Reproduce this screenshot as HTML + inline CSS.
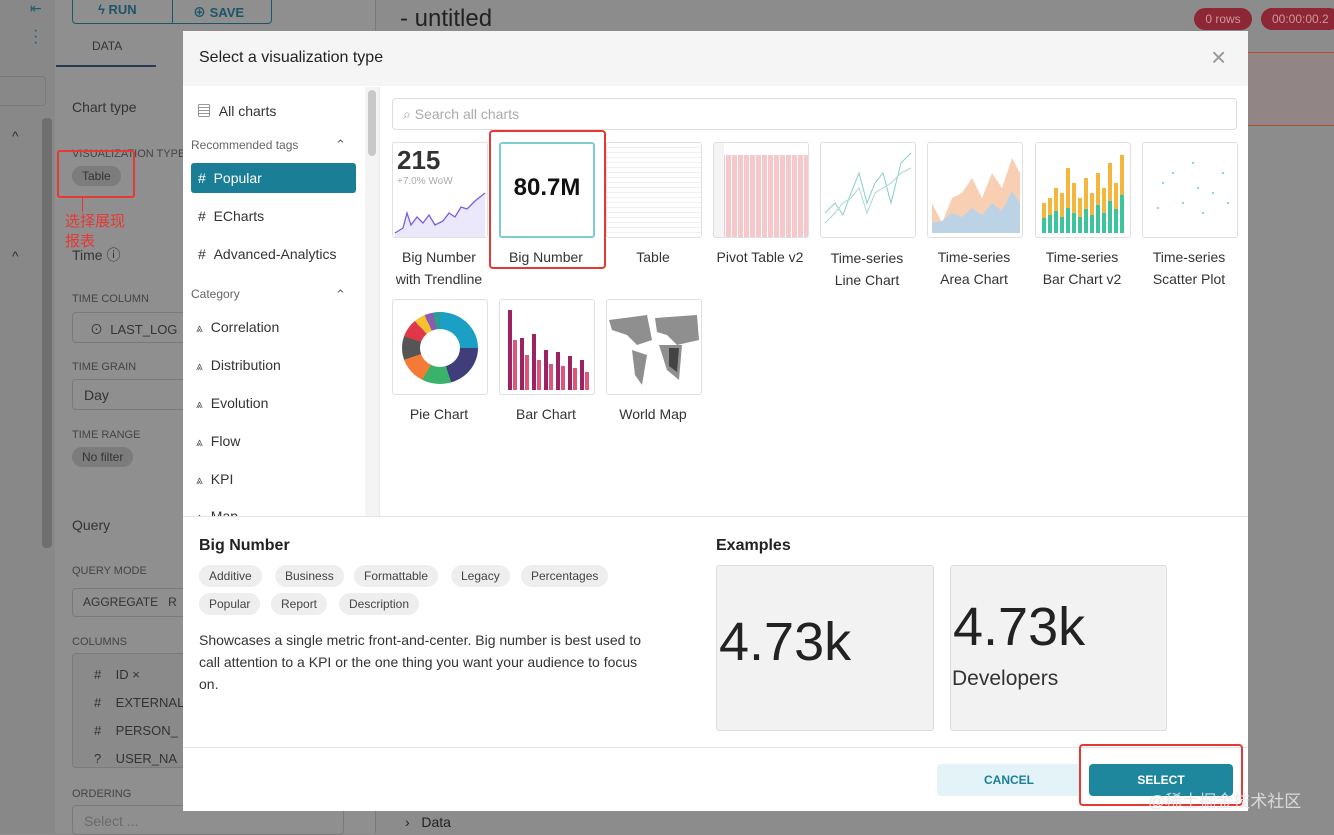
<!DOCTYPE html>
<html><head><meta charset="utf-8"><style>
*{box-sizing:border-box;margin:0;padding:0}
body{width:1334px;height:833px;overflow:hidden;background:#8c8c8c;font-family:"Liberation Sans","Noto Sans CJK SC",sans-serif;position:relative;color:#333}
.a{position:absolute}
.th{position:absolute;width:96px;height:96px;border:1px solid #e0e0e0;border-radius:3px;background:#fff;overflow:hidden}
.lb{position:absolute;width:110px;text-align:center;font-size:14px;color:#333;line-height:22px}
.ci{position:absolute;left:196px;font-size:14px;color:#333}
.ci b{font-weight:normal;color:#555;margin-right:8px;font-size:12px}
.tag{position:absolute;height:22px;line-height:22px;background:#eee;border-radius:11px;padding:0 10px;font-size:12px;color:#444}
.chip{position:absolute;background:#7c7c7c;border-radius:11px;font-size:12px;color:#333;padding:3px 10px}
</style></head><body>
<div class="a" style="left:0;top:0;width:55px;height:833px;background:#888"></div>
<div class="a" style="left:55px;top:0;width:320px;height:833px;background:#8f8f8f"></div>
<div class="a" style="left:42px;top:118px;width:10px;height:430px;background:#6f6f6f;border-radius:4px"></div>
<div class="a" style="left:375px;top:0;width:1px;height:833px;background:#7a7a7a"></div>
<div class="a" style="left:0;top:76px;width:46px;height:30px;border:1px solid #7a7a7a;border-left:none;border-radius:0 4px 4px 0"></div>
<div class="a" style="left:30px;top:0;color:#1c5f75;font-size:14px">⇤</div>
<div class="a" style="left:33px;top:28px;color:#1c5f75;font-size:16px;line-height:6px">·<br>·<br>·</div>
<div class="a" style="left:72px;top:-4px;width:200px;height:28px;border:1px solid #1d5669;border-radius:4px"></div>
<div class="a" style="left:172px;top:-4px;width:1px;height:28px;background:#1d5669"></div>
<div class="a" style="left:98px;top:2px;font-size:13px;color:#1d5669;font-weight:bold">ϟ RUN</div>
<div class="a" style="left:193px;top:2px;font-size:13px;color:#1d5669;font-weight:bold">⊕ SAVE</div>
<div class="a" style="left:92px;top:39px;font-size:12px;color:#333">DATA</div>
<div class="a" style="left:56px;top:65px;width:100px;height:2px;background:#2a3a50"></div>
<div class="a" style="left:72px;top:99px;font-size:14px;color:#333">Chart type</div>
<div class="a" style="left:12px;top:128px;font-size:14px;color:#333">^</div>
<div class="a" style="left:12px;top:248px;font-size:14px;color:#333">^</div>
<div class="a" style="left:72px;top:148px;font-size:11px;color:#444">VISUALIZATION TYPE</div>
<div class="chip" style="left:72px;top:166px">Table</div>
<div class="a" style="left:57px;top:150px;width:78px;height:48px;border:2px solid #e53935;border-radius:3px"></div>
<div class="a" style="left:82px;top:198px;width:1px;height:14px;background:#e53935"></div>
<div class="a" style="left:65px;top:212px;font-size:15px;color:#e53935;line-height:20px">选择展现<br>报表</div>
<div class="a" style="left:72px;top:245px;font-size:14px;color:#333">Time ⓘ</div>
<div class="a" style="left:72px;top:293px;font-size:11px;color:#444">TIME COLUMN</div>
<div class="a" style="left:72px;top:312px;width:120px;height:31px;border:1px solid #7a7a7a;border-radius:4px"></div>
<div class="a" style="left:90px;top:319px;font-size:13px;color:#333">⊙ &nbsp;LAST_LOG</div>
<div class="a" style="left:72px;top:361px;font-size:11px;color:#444">TIME GRAIN</div>
<div class="a" style="left:72px;top:379px;width:120px;height:31px;border:1px solid #7a7a7a;border-radius:4px"></div>
<div class="a" style="left:84px;top:387px;font-size:14px;color:#333">Day</div>
<div class="a" style="left:72px;top:429px;font-size:11px;color:#444">TIME RANGE</div>
<div class="chip" style="left:72px;top:447px">No filter</div>
<div class="a" style="left:72px;top:517px;font-size:14px;color:#333">Query</div>
<div class="a" style="left:72px;top:565px;font-size:11px;color:#444">QUERY MODE</div>
<div class="a" style="left:72px;top:588px;width:120px;height:29px;border:1px solid #7a7a7a;border-radius:4px"></div>
<div class="a" style="left:83px;top:595px;font-size:12px;color:#333">AGGREGATE &nbsp;&nbsp;R</div>
<div class="a" style="left:72px;top:636px;font-size:11px;color:#444">COLUMNS</div>
<div class="a" style="left:72px;top:653px;width:120px;height:115px;border:1px solid #7a7a7a;border-radius:4px;background:#8a8a8a"></div>
<div class="a" style="left:94px;top:661px;font-size:13px;color:#333;line-height:28px">#&nbsp;&nbsp;&nbsp; ID ×<br>#&nbsp;&nbsp;&nbsp; EXTERNAL<br>#&nbsp;&nbsp;&nbsp; PERSON_<br>?&nbsp;&nbsp;&nbsp; USER_NA</div>
<div class="a" style="left:72px;top:788px;font-size:11px;color:#444">ORDERING</div>
<div class="a" style="left:72px;top:805px;width:272px;height:30px;border:1px solid #7a7a7a;border-radius:4px"></div>
<div class="a" style="left:84px;top:813px;font-size:14px;color:#6a6a6a">Select ...</div>
<div class="a" style="left:400px;top:5px;font-size:24px;color:#222">- untitled</div>
<div class="a" style="left:1194px;top:8px;width:58px;height:22px;background:#8d2635;border-radius:11px;color:#c99;font-size:12px;text-align:center;line-height:22px">0 rows</div>
<div class="a" style="left:1261px;top:8px;width:80px;height:22px;background:#8d2635;border-radius:11px;color:#c99;font-size:12px;line-height:22px;padding-left:11px">00:00:00.2</div>
<div class="a" style="left:1248px;top:52px;width:86px;height:74px;background:#918685;border-top:1px solid #b5502a;border-bottom:1px solid #b5502a"></div>
<div class="a" style="left:405px;top:814px;font-size:14px;color:#222">›&nbsp;&nbsp; Data</div>

<div class="a" style="left:183px;top:31px;width:1065px;height:780px;background:#fff"></div>
<div class="a" style="left:183px;top:31px;width:1065px;height:55px;background:#f5f5f5"></div>
<div class="a" style="left:199px;top:49px;font-size:16px;color:#222">Select a visualization type</div>
<div class="a" style="left:1211px;top:42px;font-size:26px;color:#999">×</div>
<div class="a" style="left:365px;top:87px;width:15px;height:430px;background:#f4f4f4"></div>
<div class="a" style="left:368px;top:90px;width:8px;height:66px;background:#c8c8c8;border-radius:4px"></div>
<div class="a" style="left:379px;top:87px;width:1px;height:430px;background:#e8e8e8"></div>
<div class="a" style="left:197px;top:101px;font-size:14px;color:#333">▤ &nbsp;All charts</div>
<div class="a" style="left:191px;top:138px;font-size:12px;color:#666">Recommended tags</div>
<div class="a" style="left:335px;top:137px;font-size:13px;color:#666">⌃</div>
<div class="a" style="left:191px;top:163px;width:165px;height:30px;background:#1a7f96;border-radius:3px"></div>
<div class="a" style="left:198px;top:170px;font-size:14px;color:#fff">#&nbsp;&nbsp;Popular</div>
<div class="a" style="left:198px;top:208px;font-size:14px;color:#333">#&nbsp;&nbsp;ECharts</div>
<div class="a" style="left:198px;top:246px;font-size:14px;color:#333">#&nbsp;&nbsp;Advanced-Analytics</div>
<div class="a" style="left:191px;top:287px;font-size:12px;color:#666">Category</div>
<div class="a" style="left:335px;top:287px;font-size:13px;color:#666">⌃</div>
<div class="ci" style="top:319px"><b>⩓</b>Correlation</div>
<div class="ci" style="top:357px"><b>⩓</b>Distribution</div>
<div class="ci" style="top:395px"><b>⩓</b>Evolution</div>
<div class="ci" style="top:433px"><b>⩓</b>Flow</div>
<div class="ci" style="top:471px"><b>⩓</b>KPI</div>
<div class="ci" style="top:508px;height:8px;overflow:hidden"><b>⩓</b>Map</div>
<div class="a" style="left:392px;top:98px;width:845px;height:32px;border:1px solid #ddd;border-radius:4px"></div>
<div class="a" style="left:403px;top:106px;font-size:14px;color:#aaa">⌕ Search all charts</div>

<div class="th" style="left:392px;top:142px"><div style="position:absolute;left:4px;top:2px;font-size:26px;font-weight:bold;color:#333">215</div><div style="position:absolute;left:4px;top:33px;font-size:10px;color:#aaa">+7.0% WoW</div>
<svg width="96" height="96" style="position:absolute;left:0;top:0"><path d="M2 90 L10 85 L14 70 L18 82 L24 74 L30 80 L36 72 L42 82 L50 78 L56 70 L62 74 L68 64 L74 66 L82 58 L92 50 L92 96 L2 96Z" fill="#ece8fb"/><path d="M2 90 L10 85 L14 70 L18 82 L24 74 L30 80 L36 72 L42 82 L50 78 L56 70 L62 74 L68 64 L74 66 L82 58 L92 50" fill="none" stroke="#7a5ce0" stroke-width="1.3"/></svg></div>
<div class="th" style="left:499px;top:142px;border:2px solid #7ecbd0"><div style="position:absolute;width:100%;top:30px;text-align:center;font-size:24px;font-weight:bold;color:#111">80.7M</div></div>
<div class="th" style="left:606px;top:142px;background:repeating-linear-gradient(#fff 0 4px,#f0f0f0 4px 5px)"></div>
<div class="th" style="left:713px;top:142px;background:repeating-linear-gradient(90deg,#f6c7cb 0 5px,#fff 5px 6px);"><div style="position:absolute;left:0;top:0;width:96px;height:12px;background:#fff"></div><div style="position:absolute;left:0;top:0;width:10px;height:96px;background:#f4f4f4"></div></div>
<div class="th" style="left:820px;top:142px"><svg width="96" height="96"><path d="M4 70 L14 60 L22 72 L30 50 L38 30 L46 60 L54 40 L62 30 L70 60 L80 20 L90 10" fill="none" stroke="#8cc" stroke-width="1"/><path d="M4 80 L14 70 L22 60 L30 55 L38 45 L46 70 L54 50 L62 45 L70 40 L80 30 L90 25" fill="none" stroke="#a8d8cf" stroke-width="1"/></svg></div>
<div class="th" style="left:927px;top:142px"><svg width="96" height="96"><path d="M4 90 L4 60 L14 80 L24 55 L34 50 L44 35 L54 55 L64 30 L74 45 L84 15 L92 30 L92 90Z" fill="#f9cfb3"/><path d="M4 90 L4 80 L14 78 L24 70 L34 74 L44 65 L54 72 L64 60 L74 68 L84 48 L92 60 L92 90Z" fill="#bcd3e6"/></svg></div>
<div class="th" style="left:1035px;top:142px"><svg width="96" height="96"><g fill="#f5b73b"><rect x="6" y="60" width="4" height="30"/><rect x="12" y="55" width="4" height="35"/><rect x="18" y="45" width="4" height="45"/><rect x="24" y="50" width="4" height="40"/><rect x="30" y="25" width="4" height="65"/><rect x="36" y="40" width="4" height="50"/><rect x="42" y="55" width="4" height="35"/><rect x="48" y="35" width="4" height="55"/><rect x="54" y="50" width="4" height="40"/><rect x="60" y="30" width="4" height="60"/><rect x="66" y="45" width="4" height="45"/><rect x="72" y="20" width="4" height="70"/><rect x="78" y="40" width="4" height="50"/><rect x="84" y="12" width="4" height="78"/></g><g fill="#3cc49b"><rect x="6" y="75" width="4" height="15"/><rect x="12" y="72" width="4" height="18"/><rect x="18" y="68" width="4" height="22"/><rect x="24" y="74" width="4" height="16"/><rect x="30" y="65" width="4" height="25"/><rect x="36" y="70" width="4" height="20"/><rect x="42" y="74" width="4" height="16"/><rect x="48" y="66" width="4" height="24"/><rect x="54" y="72" width="4" height="18"/><rect x="60" y="62" width="4" height="28"/><rect x="66" y="70" width="4" height="20"/><rect x="72" y="58" width="4" height="32"/><rect x="78" y="66" width="4" height="24"/><rect x="84" y="52" width="4" height="38"/></g></svg></div>
<div class="th" style="left:1142px;top:142px"><svg width="96" height="96" fill="#6cc"><circle cx="20" cy="40" r="1"/><circle cx="30" cy="30" r="1"/><circle cx="50" cy="20" r="1"/><circle cx="70" cy="50" r="1"/><circle cx="80" cy="30" r="1"/><circle cx="40" cy="60" r="1"/><circle cx="60" cy="70" r="1"/><circle cx="85" cy="60" r="1"/><circle cx="15" cy="65" r="1"/><circle cx="55" cy="45" r="1"/></svg></div>
<div class="lb" style="left:384px;top:246px">Big Number<br>with Trendline</div>
<div class="lb" style="left:491px;top:246px">Big Number</div>
<div class="a" style="left:489px;top:130px;width:117px;height:139px;border:2px solid #e53935;border-radius:4px"></div>
<div class="lb" style="left:598px;top:246px">Table</div>
<div class="lb" style="left:705px;top:246px">Pivot Table v2</div>
<div class="lb" style="left:812px;top:247px">Time-series<br>Line Chart</div>
<div class="lb" style="left:919px;top:246px">Time-series<br>Area Chart</div>
<div class="lb" style="left:1027px;top:246px">Time-series<br>Bar Chart v2</div>
<div class="lb" style="left:1134px;top:246px">Time-series<br>Scatter Plot</div>

<div class="th" style="left:392px;top:299px"><div style="position:absolute;left:9px;top:12px;width:76px;height:72px;border-radius:50%;background:conic-gradient(#1c9fc4 0 25%,#3f3d7a 25% 45%,#3bb26b 45% 58%,#f47b35 58% 70%,#555 70% 80%,#e0384a 80% 88%,#f5c130 88% 93%,#8b5bb1 93% 97%,#2a9d8f 97%)"></div><div style="position:absolute;left:27px;top:29px;width:40px;height:38px;border-radius:50%;background:#fff"></div></div>
<div class="th" style="left:499px;top:299px"><svg width="96" height="96"><g fill="#9c2262"><rect x="8" y="10" width="4" height="80"/><rect x="20" y="38" width="4" height="52"/><rect x="32" y="34" width="4" height="56"/><rect x="44" y="50" width="4" height="40"/><rect x="56" y="52" width="4" height="38"/><rect x="68" y="56" width="4" height="34"/><rect x="80" y="60" width="4" height="30"/></g><g fill="#e0567a"><rect x="13" y="40" width="4" height="50"/><rect x="25" y="55" width="4" height="35"/><rect x="37" y="60" width="4" height="30"/><rect x="49" y="64" width="4" height="26"/><rect x="61" y="66" width="4" height="24"/><rect x="73" y="68" width="4" height="22"/><rect x="85" y="72" width="4" height="18"/></g></svg></div>
<div class="th" style="left:606px;top:299px"><svg width="96" height="96"><path d="M2 20 L40 15 L45 40 L30 45 L20 35 L5 30Z M25 50 L40 55 L35 85 L28 75Z M48 18 L90 15 L92 40 L70 45 L60 35 L50 32Z M52 45 L75 45 L72 80 L60 70Z" fill="#8f8f8f"/><path d="M62 48 L72 48 L70 72 L62 66Z" fill="#444"/></svg></div>
<div class="lb" style="left:384px;top:403px">Pie Chart</div>
<div class="lb" style="left:491px;top:403px">Bar Chart</div>
<div class="lb" style="left:598px;top:403px">World Map</div>

<div class="a" style="left:183px;top:516px;width:1065px;height:1px;background:#e4e4e4"></div>
<div class="a" style="left:199px;top:537px;font-size:16px;font-weight:bold;color:#222">Big Number</div>
<div class="tag" style="left:199px;top:565px">Additive</div>
<div class="tag" style="left:275px;top:565px">Business</div>
<div class="tag" style="left:354px;top:565px">Formattable</div>
<div class="tag" style="left:451px;top:565px">Legacy</div>
<div class="tag" style="left:521px;top:565px">Percentages</div>
<div class="tag" style="left:199px;top:593px">Popular</div>
<div class="tag" style="left:271px;top:593px">Report</div>
<div class="tag" style="left:339px;top:593px">Description</div>
<div class="a" style="left:199px;top:629px;width:446px;font-size:14px;line-height:22px;color:#333">Showcases a single metric front-and-center. Big number is best used to call attention to a KPI or the one thing you want your audience to focus on.</div>
<div class="a" style="left:716px;top:537px;font-size:16px;font-weight:bold;color:#222">Examples</div>
<div class="a" style="left:716px;top:565px;width:218px;height:166px;background:#f2f2f2;border:1px solid #ddd;border-radius:3px;overflow:hidden"><div style="position:absolute;left:2px;top:45px;font-size:54px;color:#222">4.73k</div></div>
<div class="a" style="left:950px;top:565px;width:217px;height:166px;background:#f2f2f2;border:1px solid #ddd;border-radius:3px;overflow:hidden"><div style="position:absolute;left:2px;top:30px;font-size:54px;color:#222">4.73k</div><div style="position:absolute;left:1px;top:101px;font-size:21px;color:#333">Developers</div></div>
<div class="a" style="left:183px;top:747px;width:1065px;height:1px;background:#e4e4e4"></div>
<div class="a" style="left:937px;top:764px;width:144px;height:32px;background:#e4f3f8;border-radius:4px;color:#1a7f96;font-size:12px;font-weight:bold;text-align:center;line-height:32px">CANCEL</div>
<div class="a" style="left:1089px;top:764px;width:144px;height:32px;background:#1e879e;border-radius:4px;color:#fff;font-size:12px;font-weight:bold;text-align:center;line-height:32px">SELECT</div>
<div class="a" style="left:1079px;top:744px;width:164px;height:62px;border:2px solid #e53935;border-radius:4px"></div>
<div class="a" style="left:1148px;top:787px;font-size:17px;color:rgba(230,230,230,0.85)">@稀土掘金技术社区</div>
</body></html>
